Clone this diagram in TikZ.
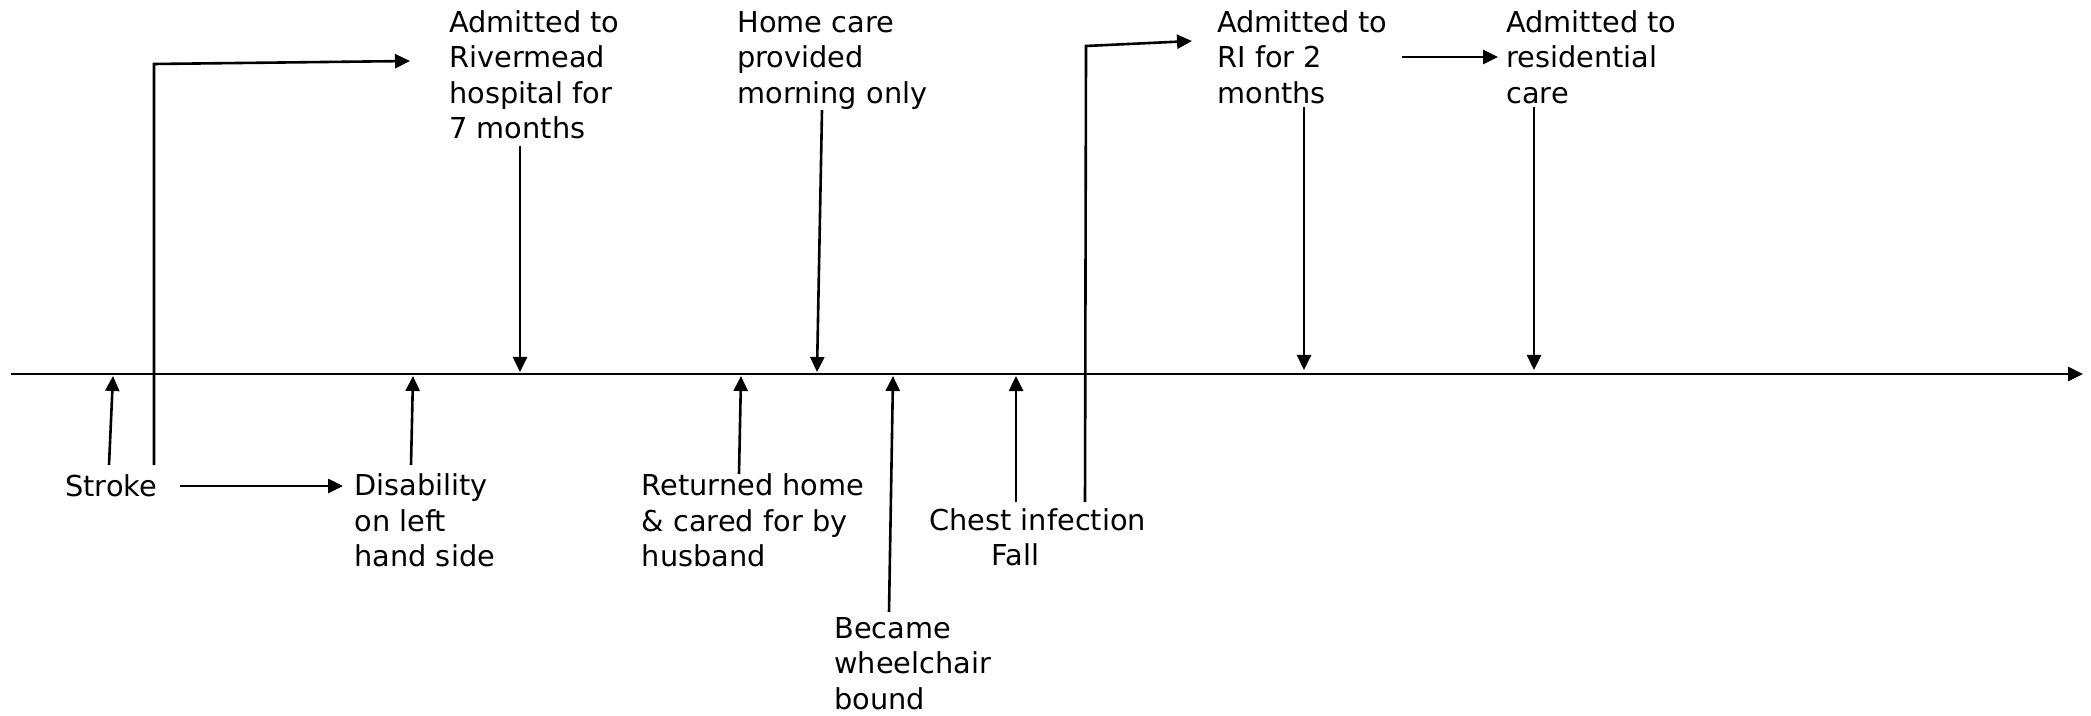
\documentclass[tikz,border=0pt]{standalone}
\usepackage{fontspec}
\setmainfont{DejaVu Sans}
\usetikzlibrary{arrows.meta}
\newcommand\mlines[1]{\begin{tabular}[t]{@{}l@{}}#1\end{tabular}}
\tikzset{
  lbl/.style={anchor=base west, inner sep=0pt, font=\fontsize{14.4}{17.75}\selectfont},
  arr/.style={line width=1.3pt, -{Triangle[length=7.5pt,width=7pt]}},
  plain/.style={line width=1.3pt}
}
\begin{document}
\begin{tikzpicture}[x=0.5pt,y=-0.5pt]
\useasboundingbox (0,0) rectangle (2091,716);
% axis
\coordinate (axL) at (11,374);
\coordinate (axR) at (2083,374);
\draw[arr] (axL) -- (axR);
% labels
\node[lbl] (stroke) at (65,496) {Stroke};
\node[lbl] (disab) at (354,495.5) {\mlines{Disability\\on left\\hand side}};
\node[lbl] (river) at (449,32.5) {\mlines{Admitted to\\Rivermead\\hospital for\\7 months}};
\node[lbl] (ret) at (641.5,495.5) {\mlines{Returned home\\\& cared for by\\husband}};
\node[lbl] (home) at (737,32.5) {\mlines{Home care\\provided\\morning only}};
\node[lbl] (wheel) at (834,638) {\mlines{Became\\wheelchair\\bound}};
\node[lbl] (chest) at (929,530) {\mlines{Chest infection\\\hspace*{31pt}Fall}};
\node[lbl] (ri) at (1217,32.5) {\mlines{Admitted to\\RI for 2\\months}};
\node[lbl] (resid) at (1506,32.5) {\mlines{Admitted to\\residential\\care}};
% connector end points
\coordinate (s1) at (109,465);   \coordinate (s1t) at (113,376);
\coordinate (s2) at (154,465);   \coordinate (s2c) at (154,64);  \coordinate (s2t) at (410,61);
\coordinate (s3) at (180,486);   \coordinate (s3t) at (343,486);
\coordinate (d1) at (411,465);   \coordinate (d1t) at (413,376);
\coordinate (r1) at (520,146);   \coordinate (r1t) at (520,372);
\coordinate (h1) at (739,474);   \coordinate (h1t) at (741,376);
\coordinate (m1) at (822,110);   \coordinate (m1t) at (817,372);
\coordinate (w1) at (889,612);   \coordinate (w1t) at (893,376);
\coordinate (c1) at (1016,502);  \coordinate (c1t) at (1016,376);
\coordinate (c2) at (1085,502);  \coordinate (c2c) at (1086,46); \coordinate (c2t) at (1192,41);
\coordinate (i1) at (1304,107);  \coordinate (i1t) at (1304,370);
\coordinate (i2) at (1402,57);   \coordinate (i2t) at (1498,57);
\coordinate (e1) at (1534,107);  \coordinate (e1t) at (1534,370);
% connectors
\draw[arr] (s1) -- (s1t);
\draw[arr] (s2) -- (s2c) -- (s2t);
\draw[arr] (s3) -- (s3t);
\draw[arr] (d1) -- (d1t);
\draw[arr] (r1) -- (r1t);
\draw[arr] (h1) -- (h1t);
\draw[arr] (m1) -- (m1t);
\draw[arr] (w1) -- (w1t);
\draw[arr] (c1) -- (c1t);
\draw[arr] (c2) -- (c2c) -- (c2t);
\draw[arr] (i1) -- (i1t);
\draw[arr] (i2) -- (i2t);
\draw[arr] (e1) -- (e1t);
\end{tikzpicture}
\end{document}
